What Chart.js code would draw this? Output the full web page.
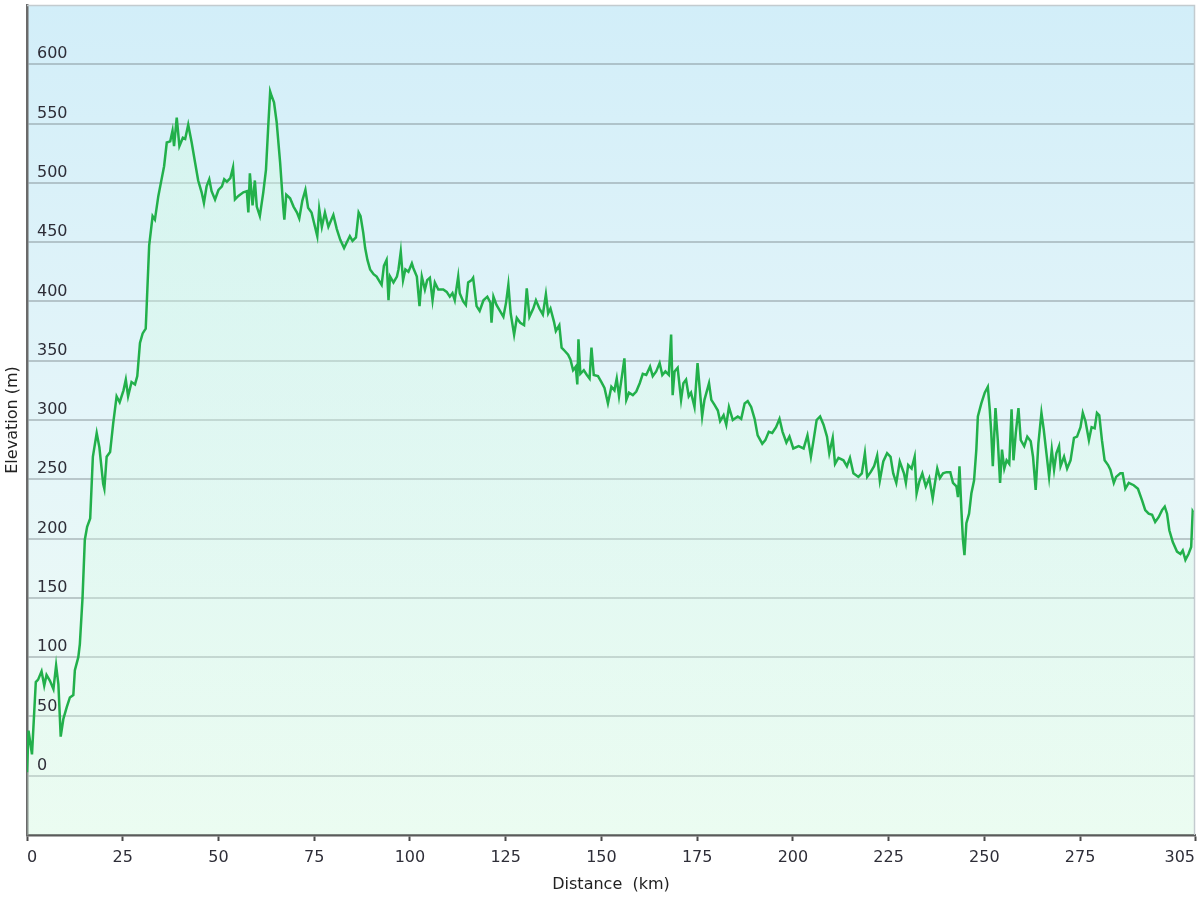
<!DOCTYPE html>
<html>
<head>
<meta charset="utf-8">
<script src="https://cdn.jsdelivr.net/npm/chart.js@4.4.0/dist/chart.umd.min.js"></script>
<style>
html,body{margin:0;padding:0;background:#fff;}
#wrap{width:1200px;height:900px;position:relative;}
</style>
</head>
<body>
<div id="wrap"><canvas id="c" width="1200" height="900"></canvas></div>
<script>
const distanceKm = [
0.0,0.4,1.3,2.3,2.9,3.8,4.5,5.1,6.0,6.9,7.6,8.2,8.8,9.5,10.4,11.2,12.1,12.5,13.4,13.8,
14.5,15.1,15.7,16.5,17.2,18.2,18.9,19.9,20.2,20.8,21.7,22.5,23.4,24.2,25.2,25.8,26.4,27.3,28.2,28.8,
29.5,30.2,31.0,31.3,31.9,32.8,33.4,34.3,35.2,35.8,36.5,37.4,38.0,38.4,39.1,39.8,40.7,41.3,42.1,43.0,
43.9,44.7,45.6,46.2,46.9,47.6,48.2,49.1,50.0,50.9,51.5,52.2,53.1,53.8,54.3,55.2,56.5,57.4,57.8,58.2,
58.9,59.5,60.0,60.8,61.7,62.4,63.0,63.5,63.9,64.5,65.2,66.1,66.9,67.2,67.7,68.7,69.6,70.5,71.1,71.9,
72.7,73.4,74.3,75.2,75.8,76.3,77.0,77.8,78.7,80.0,80.9,81.8,82.8,83.4,84.3,85.0,85.9,86.6,87.1,87.8,
88.3,88.9,89.6,90.5,91.3,92.2,92.6,93.2,93.9,94.4,94.8,95.7,96.6,97.0,97.6,98.2,98.8,99.6,100.5,100.9,
101.8,102.5,103.1,103.9,104.5,105.2,105.9,106.5,107.4,108.7,109.6,110.4,111.1,111.7,112.6,113.0,113.9,114.6,115.2,116.1,
116.5,117.4,118.2,119.2,120.2,121.0,121.3,121.8,122.6,123.5,124.4,125.1,125.7,126.3,127.2,127.9,128.8,129.8,130.5,131.2,
132.2,132.9,133.8,134.7,135.5,136.1,136.7,137.6,138.1,139.0,139.6,140.5,141.3,141.9,142.6,143.3,143.7,144.0,144.5,145.4,
146.2,146.9,147.4,148.0,149.1,150.0,150.8,151.7,152.6,153.4,154.0,154.6,155.4,156.0,156.5,157.2,158.2,159.1,160.0,160.8,
161.7,162.7,163.4,164.3,165.2,165.9,166.7,167.6,168.2,168.6,169.1,169.9,170.8,171.4,172.1,172.8,173.4,174.3,175.1,175.7,
176.3,176.9,178.1,178.7,179.5,180.4,181.0,181.9,182.6,183.3,184.3,185.6,186.5,187.4,188.2,189.1,190.0,190.8,192.0,192.8,
193.7,194.6,195.6,196.5,197.3,198.3,199.1,200.1,201.5,202.8,203.8,204.7,205.4,206.2,207.1,208.0,208.9,209.5,210.4,211.0,
211.9,213.2,214.1,214.9,215.8,217.1,218.0,218.8,219.4,220.3,221.2,222.0,222.7,223.6,224.6,225.5,226.2,227.0,227.9,229.0,
229.5,230.1,231.0,231.8,232.3,233.0,233.8,234.7,235.6,236.5,237.1,237.7,238.4,239.2,240.1,241.1,241.8,242.7,243.1,243.5,
244.0,244.4,244.8,245.3,246.0,246.6,247.3,247.9,248.3,249.2,250.1,250.9,251.4,251.8,252.2,252.9,253.5,254.1,254.6,255.2,
255.8,256.5,257.1,257.6,258.2,258.9,259.5,260.4,261.2,262.1,262.7,263.4,264.1,264.9,265.5,266.2,266.9,267.6,268.2,268.8,
269.5,269.9,270.8,271.6,272.5,273.4,274.2,275.1,275.7,276.4,277.3,278.0,278.8,279.4,280.0,280.7,281.4,282.3,282.9,283.8,
284.4,285.5,286.1,286.8,287.7,289.0,290.1,291.2,292.0,292.9,293.8,294.6,295.5,296.4,297.1,297.7,298.3,299.2,300.3,301.2,
301.8,302.5,303.3,304.0,304.4,304.6
];
const elevationM = [
3,38,18,79,81,88,76,85,80,73,93,77,33,48,58,66,68,89,100,111,
150,199,210,217,269,289,277,246,242,269,273,297,320,315,325,334,320,332,330,337,
365,373,377,400,447,472,469,489,504,514,534,535,544,531,555,531,538,537,549,534,
517,502,492,483,497,503,493,486,494,497,503,501,504,513,486,489,492,493,475,508,
481,502,480,472,492,511,548,577,573,568,551,517,480,469,490,487,480,475,470,485,
494,479,475,463,455,478,463,475,463,473,461,452,445,449,455,451,454,475,472,458,
445,435,427,423,421,416,414,430,435,401,421,416,421,427,442,418,427,425,432,428,
421,396,421,410,418,420,401,416,410,410,408,404,407,401,421,407,400,397,416,418,
420,396,392,401,404,399,382,404,397,392,387,399,414,390,372,386,382,380,411,387,
394,401,394,389,406,390,394,383,375,380,361,358,355,351,342,345,330,368,339,342,
338,335,361,338,337,332,327,314,328,325,335,320,338,352,317,323,321,324,331,339,
338,345,337,341,348,338,341,338,372,321,341,344,317,331,334,320,323,311,348,325,
303,317,331,317,313,308,299,304,296,311,300,303,301,314,316,311,301,287,280,283,
290,289,294,301,290,281,286,276,278,276,287,269,283,300,303,296,286,272,285,263,
268,266,261,268,255,252,255,272,252,256,261,270,249,265,272,269,255,247,265,255,
247,262,259,269,238,248,255,244,251,234,247,259,251,255,256,256,247,244,235,261,
224,199,186,213,221,238,249,275,303,314,323,328,309,289,261,310,283,247,275,259,
266,263,309,266,289,310,283,278,286,282,269,241,280,306,292,272,252,275,258,272,
278,261,269,259,266,285,286,294,306,299,283,294,293,306,304,283,266,262,258,247,
252,255,255,242,247,245,242,232,224,221,220,214,218,224,227,221,207,197,189,187,
190,182,187,193,223,222
];
const xTickValues = [0,25,50,75,100,125,150,175,200,225,250,275,305];
const yTickValues = [0,50,100,150,200,250,300,350,400,450,500,550,600];
const xTitleText = 'Distance  (km)';
const yTitleText = 'Elevation (m)';

const points = distanceKm.map((d, i) => ({x: d, y: elevationM[i]}));

const bgPlugin = {
  id: 'bg',
  beforeDraw(chart) {
    const {ctx, chartArea: a} = chart;
    ctx.save();
    ctx.fillStyle = '#ffffff';
    ctx.fillRect(0, 0, chart.width, chart.height);
    const g = ctx.createLinearGradient(0, a.top, 0, a.bottom);
    g.addColorStop(0, '#d2eef9');
    g.addColorStop(0.5, '#e4f5f9');
    g.addColorStop(1, '#f0fcf4');
    ctx.fillStyle = g;
    ctx.fillRect(a.left, a.top, a.right - a.left, a.bottom - a.top);
    ctx.restore();
  },
  afterDraw(chart) {
    const {ctx, chartArea: a} = chart;
    ctx.save();
    ctx.strokeStyle = '#c3cbcf';
    ctx.lineWidth = 1.5;
    ctx.beginPath();
    ctx.moveTo(a.left, a.top + 0.5);
    ctx.lineTo(a.right - 0.5, a.top + 0.5);
    ctx.lineTo(a.right - 0.5, a.bottom);
    ctx.stroke();
    ctx.restore();
  }
};

const tickFont = {family: "'DejaVu Sans', Verdana, sans-serif", size: 16};
const titleFont = {family: "'DejaVu Sans', Verdana, sans-serif", size: 16};

new Chart(document.getElementById('c'), {
  type: 'line',
  data: {
    datasets: [{
      data: points,
      borderColor: '#22b04b',
      borderWidth: 2.5,
      pointRadius: 0,
      tension: 0,
      fill: 'start',
      backgroundColor: (ctx) => {
        const a = ctx.chart.chartArea;
        if (!a) return 'rgba(215,250,225,0.35)';
        const g = ctx.chart.ctx.createLinearGradient(0, a.top, 0, a.bottom);
        g.addColorStop(0, 'rgba(210,250,225,0.45)');
        g.addColorStop(1, 'rgba(220,252,232,0.25)');
        return g;
      }
    }]
  },
  options: {
    responsive: false,
    animation: false,
    layout: {padding: {top: 5, right: 5, left: 0, bottom: 0}},
    plugins: {legend: {display: false}, tooltip: {enabled: false}},
    scales: {
      x: {
        type: 'linear',
        min: 0,
        max: 305,
        afterBuildTicks: (s) => { s.ticks = xTickValues.map(v => ({value: v})); },
        afterFit: (s) => { s.height = 65; s.paddingLeft = 0; s.paddingRight = 0; },
        grid: {drawOnChartArea: false, drawTicks: true, tickLength: 6, tickColor: '#4a4a4a', tickWidth: 2},
        border: {display: true, color: '#5a5a5a', width: 2.5},
        ticks: {align: 'inner', padding: 7, color: '#2e2e38', font: tickFont, autoSkip: false, maxRotation: 0},
        title: {display: true, text: xTitleText, color: '#222', font: titleFont, padding: {top: 0, bottom: 6}}
      },
      y: {
        min: -50,
        max: 650,
        afterBuildTicks: (s) => { s.ticks = yTickValues.map(v => ({value: v})); },
        afterFit: (s) => { s.width = 27; s.paddingTop = 0; s.paddingBottom = 0; },
        grid: {drawTicks: false, color: 'rgba(110,120,125,0.38)', lineWidth: 2},
        border: {display: true, color: '#6a6a6a', width: 2.5},
        ticks: {mirror: true, padding: 10, labelOffset: -10, color: '#2e2e38', font: tickFont, z: 1},
        title: {display: true, text: yTitleText, color: '#222', font: titleFont, padding: {top: 3, bottom: 0}}
      }
    }
  },
  plugins: [bgPlugin]
});
</script>
</body>
</html>
